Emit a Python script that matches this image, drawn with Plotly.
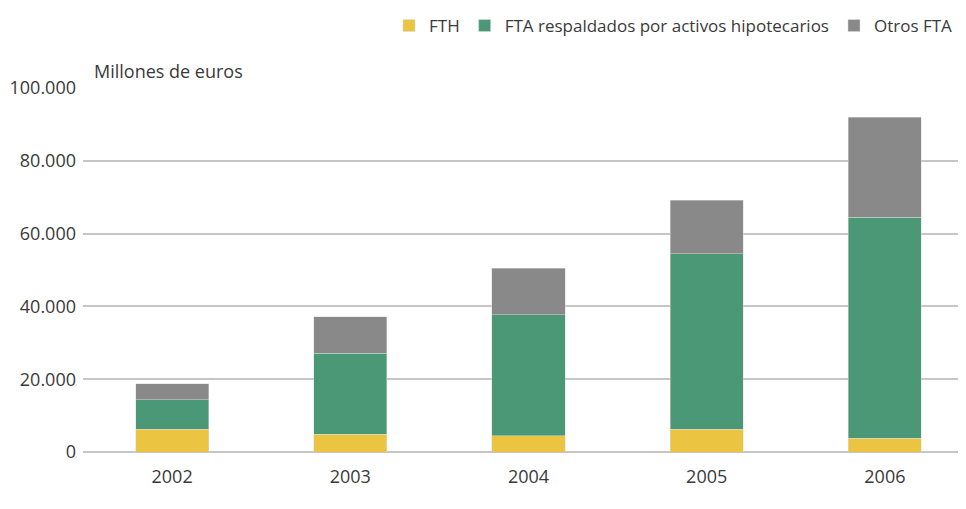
import plotly.graph_objects as go

# anos y valores (millones de euros)
years = ['2002', '2003', '2004', '2005', '2006']
fth = [6300, 4850, 4500, 6300, 3750]
fta_hipotecarios = [8100, 22250, 33200, 48200, 60750]
otros_fta = [4300, 10100, 12800, 14600, 27500]

series_names = ['FTH', 'FTA respaldados por activos hipotecarios', 'Otros FTA']
colors = ['#EBC542', '#4A9875', '#898989']

font_family = 'Open Sans'
text_color = '#3a3a3a'

# the page puts the figure 8px in from the top-left corner
left, top, plot_w, plot_h = 75, 79, 891, 365

fig = go.Figure()

for name, vals, color in zip(series_names, [fth, fta_hipotecarios, otros_fta], colors):
    fig.add_trace(go.Bar(name=name,
                         x=years,
                         y=vals,
                         marker=dict(color=color, line=dict(color='rgba(220,220,220,0.8)', width=0.6))))

fig.update_layout(
    barmode='stack',
    bargap=0.59,
    width=966,
    height=509,
    separators=',.',
    plot_bgcolor='white',
    paper_bgcolor='white',
    font=dict(family=font_family, color=text_color, size=18),
    margin=dict(l=left, r=966 - left - plot_w, t=top, b=509 - top - plot_h, pad=0),
    showlegend=True,
    legend=dict(orientation='h',
                x=(381 - left) / plot_w,
                xanchor='left',
                y=1.0 + 62 / plot_h,
                yanchor='middle',
                font=dict(size=17, color=text_color),
                traceorder='normal',
                itemwidth=30,
                bgcolor='rgba(0,0,0,0)'),
)

fig.update_xaxes(range=[-0.5, 4.5],
                 showgrid=False,
                 showline=False,
                 ticks='',
                 ticklabelstandoff=12,
                 tickfont=dict(size=18, color=text_color))

fig.update_yaxes(range=[0, 100000],
                 tickvals=[0, 20000, 40000, 60000, 80000, 100000],
                 tickformat=',d',
                 showgrid=True,
                 gridcolor='#c6c6c6',
                 gridwidth=1.5,
                 zeroline=True,
                 zerolinecolor='#c6c6c6',
                 zerolinewidth=1.5,
                 showline=False,
                 ticks='',
                 ticklabelstandoff=6,
                 tickfont=dict(size=18, color=text_color))

fig.add_annotation(text='Millones de euros',
                   xref='paper', yref='paper',
                   x=(84 - left) / plot_w, y=1.0 + 17 / plot_h,
                   xanchor='left', yanchor='middle',
                   showarrow=False,
                   font=dict(size=18, color=text_color))

fig.write_html("out.html")
